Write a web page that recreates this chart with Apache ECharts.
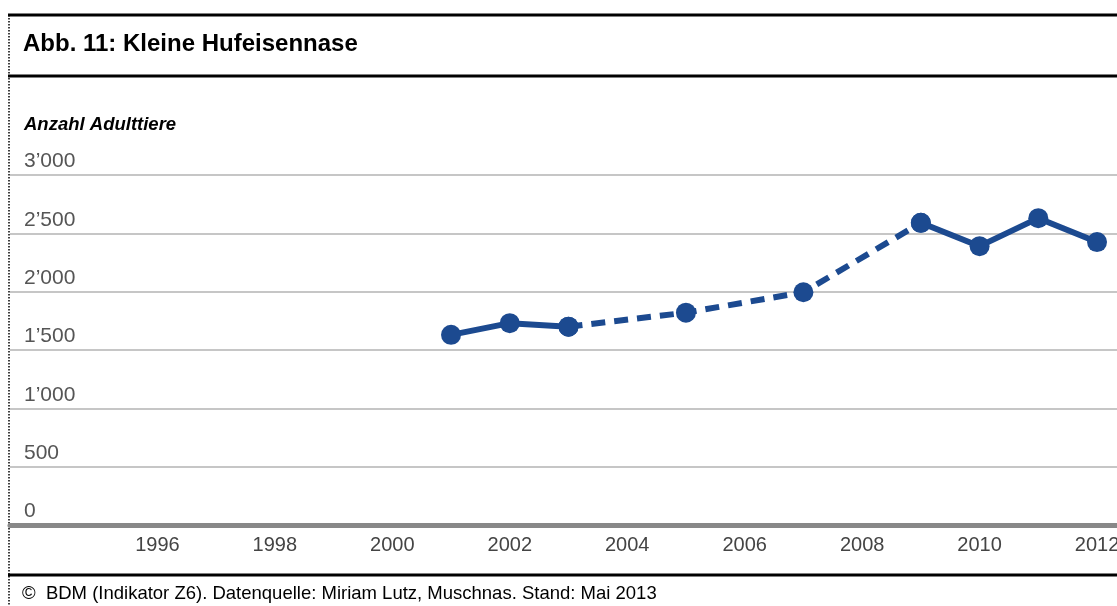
<!DOCTYPE html>
<html>
<head>
<meta charset="utf-8">
<script src="https://cdn.jsdelivr.net/npm/echarts@6/dist/echarts.min.js"></script>
<style>
  html, body { margin: 0; padding: 0; background: #fff; }
  #chart { width: 1117px; height: 606px; }
</style>
</head>
<body>
<div id="chart"></div>
<script>
// Daten: Anzahl Adulttiere (Kleine Hufeisennase)
const years = [2001, 2002, 2003, 2005, 2007, 2009, 2010, 2011, 2012];
const adults = [1630, 1730, 1700, 1820, 1995, 2590, 2390, 2630, 2425];
// gestrichelte Verbindung (Lücke in der Zählung) zwischen diesen Jahren
const dashedYears = [2003, 2005, 2007, 2009];
const xTickYears = [1996, 1998, 2000, 2002, 2004, 2006, 2008, 2010, 2012];
const yTickValues = [0, 500, 1000, 1500, 2000, 2500, 3000];
const yTickLabels = ['0', '500', '1’000', '1’500', '2’000', '2’500', '3’000'];

const COLOR = '#1c4a90';
const FONT = '"Liberation Sans", Arial, sans-serif';

// durchgezogene Linie: Punkte ausserhalb der gestrichelten Strecke, Lücke dazwischen
const solidData = [];
const dashedData = [];
years.forEach((y, i) => {
  const inner = dashedYears.includes(y) && y !== dashedYears[0] && y !== dashedYears[dashedYears.length - 1];
  if (inner) {
    if (solidData.length && solidData[solidData.length - 1][1] !== '-') solidData.push([y, '-']);
  } else {
    solidData.push([y, adults[i]]);
  }
  if (dashedYears.includes(y)) dashedData.push([y, adults[i]]);
});

const chart = echarts.init(document.getElementById('chart'));

const option = {
  animation: false,
  backgroundColor: '#fff',
  textStyle: { fontFamily: FONT },
  grid: { left: 10, right: 0, top: 175, bottom: 81, outerBoundsMode: 'none', containLabel: false },
  xAxis: {
    type: 'value',
    min: 1993.49,
    max: 2012.34,
    axisLine: { show: true, lineStyle: { color: '#888', width: 5 } },
    axisTick: { show: false },
    splitLine: { show: false },
    axisLabel: {
      customValues: xTickYears,
      color: '#444',
      fontSize: 20,
      margin: 10,
      hideOverlap: false,
      formatter: (v) => String(v),
    },
  },
  yAxis: {
    type: 'value',
    min: 0,
    max: 3000,
    interval: 500,
    axisLine: { show: false },
    axisTick: { show: false },
    splitLine: { lineStyle: { color: '#c6c6c6', width: 2 } },
    axisLabel: {
      inside: true,
      margin: 14,
      verticalAlign: 'bottom',
      padding: [0, 0, 3, 0],
      color: '#555',
      fontSize: 21,
      formatter: (v) => yTickLabels[yTickValues.indexOf(v)],
    },
  },
  series: [
    {
      name: 'gestrichelt',
      type: 'line',
      data: dashedData,
      symbol: 'circle',
      symbolSize: 20,
      itemStyle: { color: COLOR },
      lineStyle: { color: COLOR, width: 6, type: [14, 9] },
      z: 2,
    },
    {
      name: 'Adulttiere',
      type: 'line',
      data: solidData,
      connectNulls: false,
      symbol: 'circle',
      symbolSize: 20,
      itemStyle: { color: COLOR },
      lineStyle: { color: COLOR, width: 6 },
      z: 3,
    },
  ],
  graphic: [
    { type: 'line', shape: { x1: 8, y1: 15, x2: 1117, y2: 15 }, style: { stroke: '#000', lineWidth: 3 } },
    { type: 'line', shape: { x1: 8, y1: 76, x2: 1117, y2: 76 }, style: { stroke: '#000', lineWidth: 3 } },
    { type: 'line', shape: { x1: 8, y1: 575, x2: 1117, y2: 575 }, style: { stroke: '#000', lineWidth: 3 } },
    { type: 'line', shape: { x1: 9, y1: 15, x2: 9, y2: 606 }, style: { stroke: '#000', lineWidth: 1.5, lineDash: [1.5, 1.5] } },
    {
      type: 'text', left: 23, top: 32,
      style: { text: 'Abb. 11: Kleine Hufeisennase', font: 'bold 24px ' + FONT, fill: '#000' },
    },
    {
      type: 'text', left: 24, top: 115,
      style: { text: 'Anzahl Adulttiere', font: 'italic bold 18.5px ' + FONT, fill: '#000' },
    },
    {
      type: 'text', left: 22, top: 584,
      style: { text: '©  BDM (Indikator Z6). Datenquelle: Miriam Lutz, Muschnas. Stand: Mai 2013', font: '18.5px ' + FONT, fill: '#000' },
    },
  ],
};

chart.setOption(option);
</script>
</body>
</html>
